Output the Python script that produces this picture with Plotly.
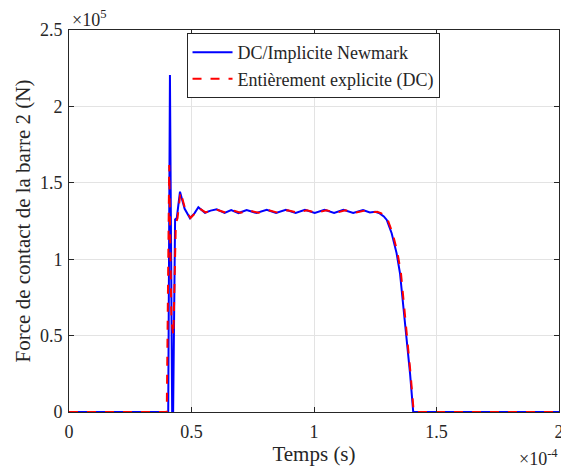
import plotly.graph_objects as go

# Time in units of 1e-4 s, force in units of 1e5 N
t_newmark = [0.0, 0.405, 0.412, 0.421, 0.425, 0.433, 0.440, 0.453, 0.472, 0.494, 0.512, 0.528,
             0.555, 0.578, 0.603, 0.635, 0.662, 0.692, 0.725, 0.765, 0.807, 0.845, 0.885,
             0.925, 0.963, 1.003, 1.043, 1.082, 1.120, 1.160, 1.200, 1.228, 1.250, 1.268,
             1.285, 1.297, 1.317, 1.337, 1.351, 1.365, 1.378, 1.392, 1.405, 1.45, 2.0]
f_newmark = [0.0, 0.0, 2.205, 0.0, 0.0, 1.26, 1.27, 1.442, 1.33, 1.268, 1.30, 1.34,
             1.304, 1.318, 1.326, 1.303, 1.322, 1.302, 1.322, 1.302, 1.323, 1.302, 1.323,
             1.302, 1.323, 1.302, 1.323, 1.302, 1.323, 1.302, 1.322, 1.306, 1.31, 1.30,
             1.28, 1.257, 1.17, 1.04, 0.908, 0.689, 0.471, 0.253, 0.0, 0.0, 0.0]

t_explicit = [0.0, 0.399, 0.409, 0.418, 0.426, 0.436, 0.443, 0.455, 0.474, 0.496, 0.514, 0.530,
              0.557, 0.580, 0.607, 0.640, 0.668, 0.700, 0.733, 0.773, 0.815, 0.853, 0.893,
              0.933, 0.971, 1.011, 1.051, 1.090, 1.128, 1.168, 1.208, 1.235, 1.258, 1.275,
              1.290, 1.301, 1.321, 1.341, 1.355, 1.369, 1.381, 1.394, 1.407, 1.45, 2.0]
f_explicit = [0.0, 0.0, 1.616, 0.60, 0.50, 1.23, 1.27, 1.44, 1.33, 1.27, 1.30, 1.335,
              1.306, 1.318, 1.322, 1.305, 1.319, 1.304, 1.319, 1.304, 1.320, 1.304, 1.320,
              1.304, 1.320, 1.304, 1.320, 1.304, 1.320, 1.304, 1.318, 1.307, 1.31, 1.30,
              1.28, 1.257, 1.17, 1.04, 0.908, 0.689, 0.471, 0.253, 0.0, 0.0, 0.0]

x_ticks = [0, 0.5, 1, 1.5, 2]
x_ticklabels = ["0", "0.5", "1", "1.5", "2"]
y_ticks = [0, 0.5, 1, 1.5, 2, 2.5]
y_ticklabels = ["0", "0.5", "1", "1.5", "2", "2.5"]

FONT = "Liberation Serif, Times New Roman, serif"
INK = "#262626"

fig = go.Figure()
fig.add_trace(go.Scatter(x=t_newmark, y=f_newmark, mode="lines",
                         name="DC/Implicite Newmark",
                         line=dict(color="#0000ff", width=2)))
fig.add_trace(go.Scatter(x=t_explicit, y=f_explicit, mode="lines",
                         name="Entièrement explicite (DC)",
                         line=dict(color="#ff0000", width=2, dash="dash")))

axis_common = dict(showgrid=True, gridcolor="#e3e3e3", gridwidth=1,
                   showline=True, linecolor=INK, linewidth=1, mirror="ticks",
                   ticks="inside", ticklen=5, tickcolor=INK,
                   tickfont=dict(family=FONT, size=18, color=INK),
                   zeroline=False, automargin=False)

# The page body adds an 8px offset at top/left, so the figure is 8px smaller
fig.update_layout(
    width=561, height=462,
    margin=dict(l=61, r=10, t=22, b=58),
    paper_bgcolor="white", plot_bgcolor="white",
    font=dict(family=FONT, color=INK),
    showlegend=True,
    legend=dict(x=0.498, y=0.992, xanchor="center", yanchor="top",
                bgcolor="white", bordercolor=INK, borderwidth=1,
                font=dict(family=FONT, size=18, color=INK),
                tracegroupgap=0, itemwidth=40),
    xaxis=dict(range=[0, 2], tickvals=x_ticks, ticktext=x_ticklabels,
               ticklabelstandoff=3,
               title=dict(text="Temps (s)", font=dict(family=FONT, size=21, color=INK), standoff=2),
               **axis_common),
    yaxis=dict(range=[0, 2.5], tickvals=y_ticks, ticktext=y_ticklabels,
               ticklabelstandoff=2,
               title=dict(text="Force de contact de la barre 2 (N)", font=dict(family=FONT, size=21, color=INK), standoff=3),
               **axis_common),
)

fig.add_annotation(xref="paper", yref="paper", x=0.0, y=1.0, xanchor="left", yanchor="bottom",
                   text="×10<sup>5</sup>", showarrow=False, xshift=1, yshift=-2,
                   font=dict(family=FONT, size=18, color=INK))
fig.add_annotation(xref="paper", yref="paper", x=1.0, y=0.0, xanchor="right", yanchor="top",
                   text="×10<sup>-4</sup>", showarrow=False, yshift=-32, xshift=1,
                   font=dict(family=FONT, size=18, color=INK))

fig.write_html("out.html")
